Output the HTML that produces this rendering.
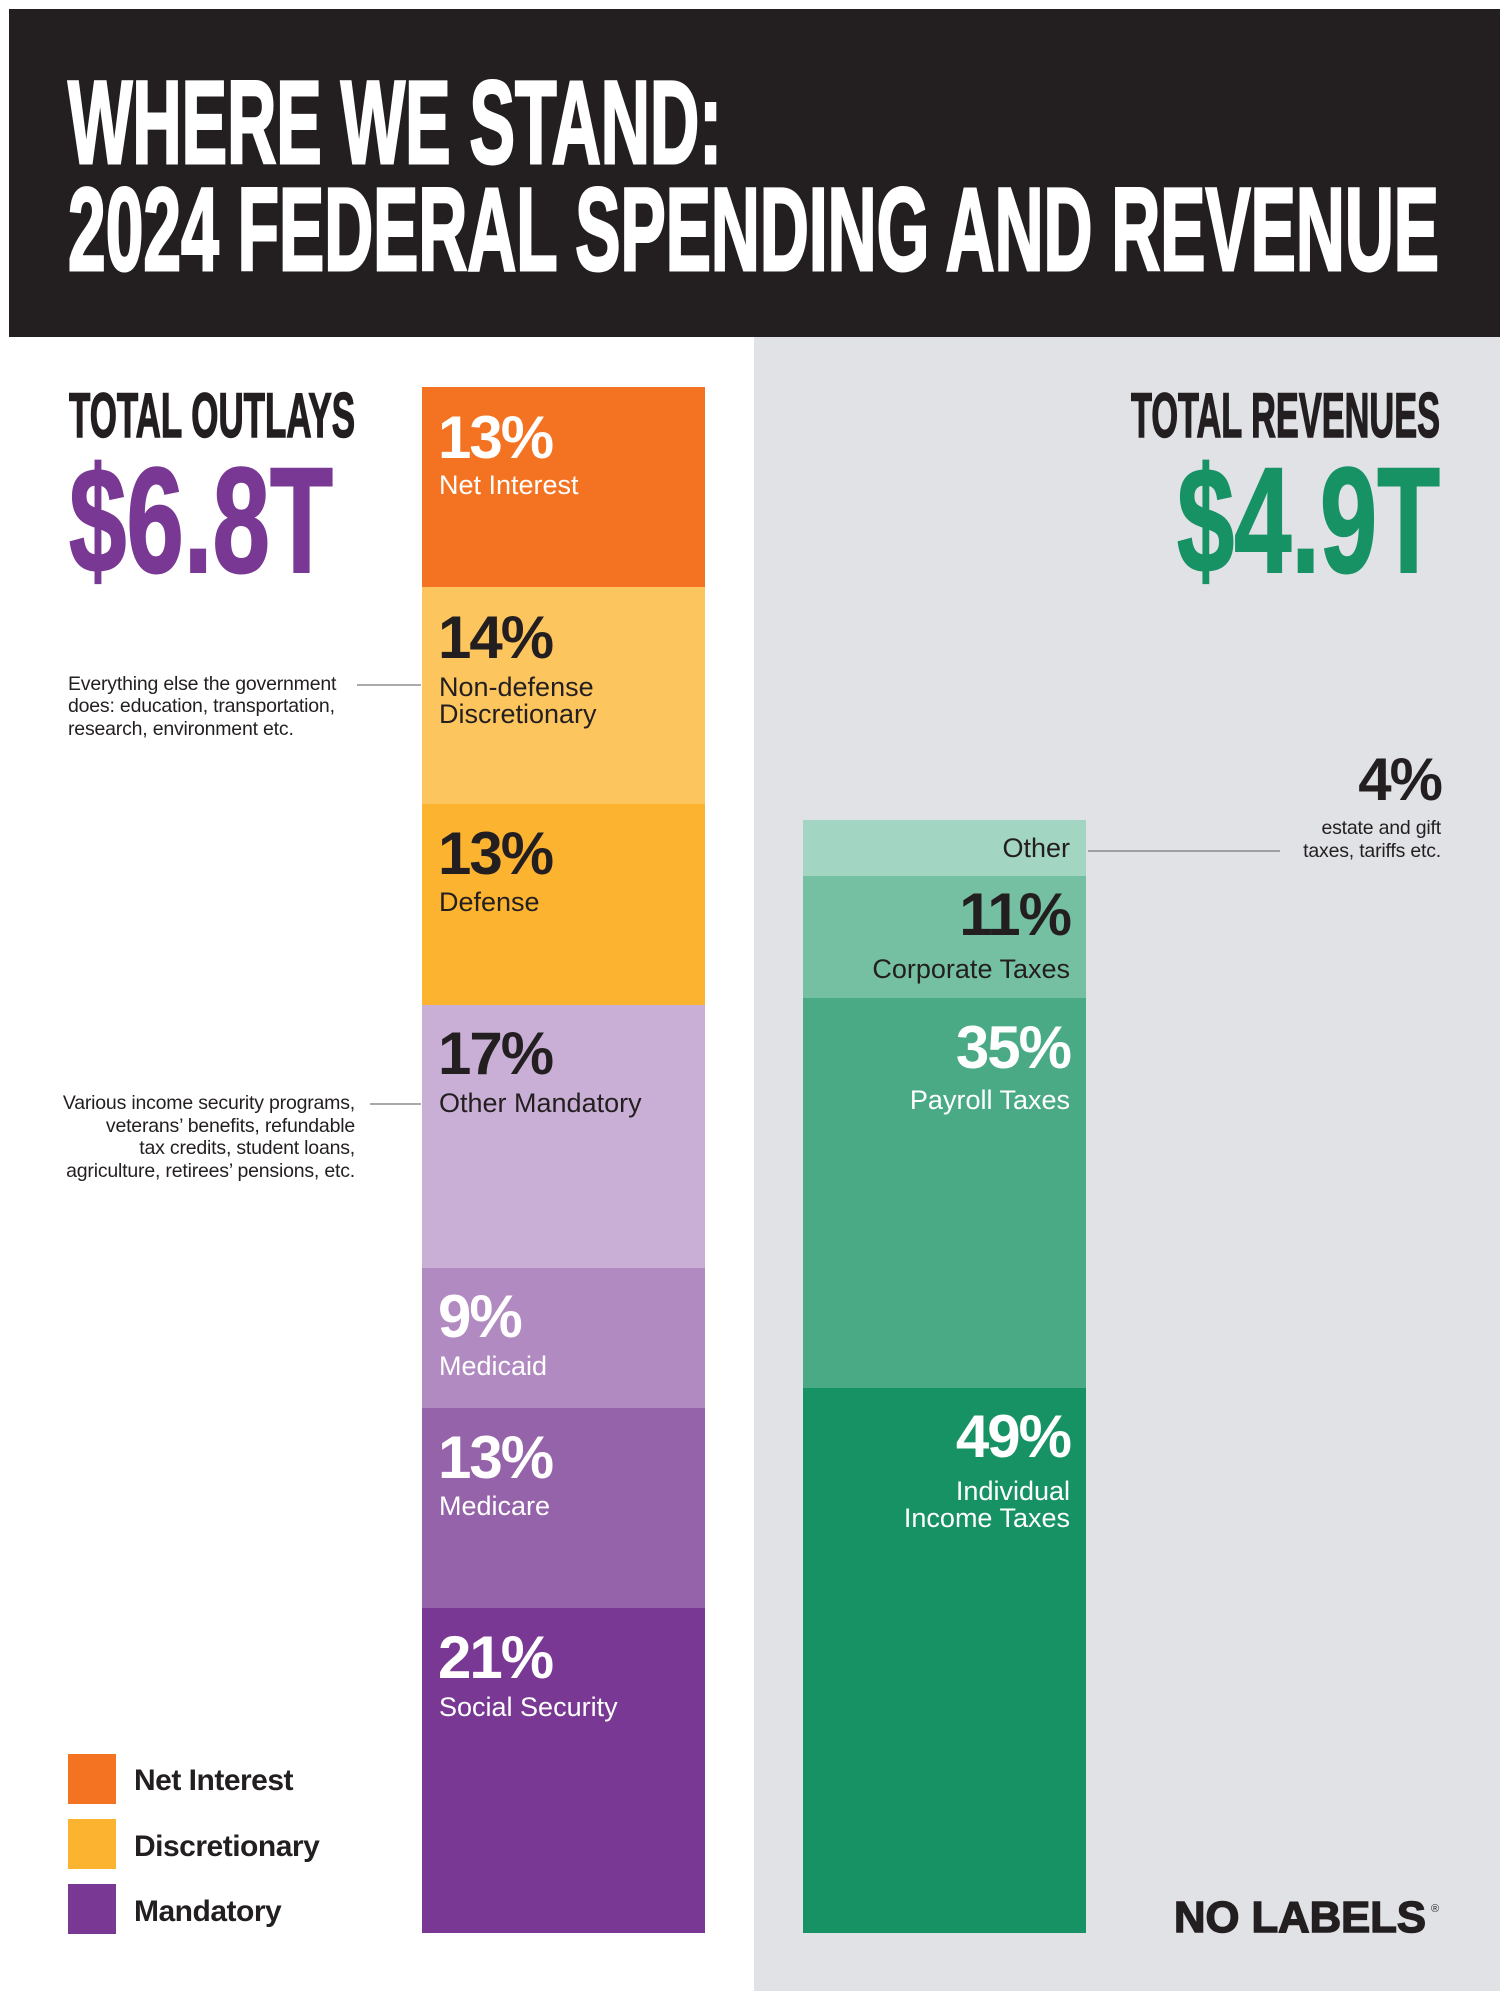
<!DOCTYPE html>
<html><head><meta charset="utf-8"><style>
html,body{margin:0;padding:0;background:#fff}
svg{display:block}
text{font-family:"Liberation Sans",Arial,sans-serif}
.h{font-weight:bold}
.p{font-weight:bold;font-size:60px;letter-spacing:-2px}
.l{font-size:27px}
.a{font-size:19.5px;fill:#231f20;letter-spacing:-0.2px}
.lg{font-weight:bold;font-size:30px;fill:#231f20;letter-spacing:-0.5px}
</style></head><body>
<svg width="1509" height="2000" viewBox="0 0 1509 2000" xmlns="http://www.w3.org/2000/svg">
<rect x="0" y="0" width="1509" height="2000" fill="#fff"/>
<rect x="9" y="9" width="1491" height="328" fill="#231f20"/>
<rect x="754" y="337" width="746" height="1654" fill="#e1e2e6"/>
<text x="68" y="163" class="h" font-size="118" fill="#fff" stroke="#fff" stroke-width="3" textLength="654" lengthAdjust="spacingAndGlyphs">WHERE WE STAND:</text>
<text x="68" y="270" class="h" font-size="118" fill="#fff" stroke="#fff" stroke-width="3" textLength="1371" lengthAdjust="spacingAndGlyphs">2024 FEDERAL SPENDING AND REVENUE</text>

<text x="69" y="437" class="h" font-size="63" fill="#231f20" stroke="#231f20" stroke-width="1.5" textLength="286" lengthAdjust="spacingAndGlyphs">TOTAL OUTLAYS</text>
<text x="69" y="572" class="h" font-size="150" fill="#793893" stroke="#793893" stroke-width="2" textLength="264" lengthAdjust="spacingAndGlyphs">$6.8T</text>
<text x="1131" y="437" class="h" font-size="63" fill="#231f20" stroke="#231f20" stroke-width="1.5" textLength="309" lengthAdjust="spacingAndGlyphs">TOTAL REVENUES</text>
<text x="1177" y="572" class="h" font-size="150" fill="#179265" stroke="#179265" stroke-width="2" textLength="263" lengthAdjust="spacingAndGlyphs">$4.9T</text>

<!-- left bar -->
<rect x="422" y="387" width="283" height="200" fill="#f47322"/>
<rect x="422" y="587" width="283" height="217" fill="#fdc55e"/>
<rect x="422" y="804" width="283" height="201" fill="#fbb330"/>
<rect x="422" y="1005" width="283" height="263" fill="#c9afd5"/>
<rect x="422" y="1268" width="283" height="140" fill="#b08ac1"/>
<rect x="422" y="1408" width="283" height="200" fill="#9563aa"/>
<rect x="422" y="1608" width="283" height="325" fill="#793893"/>

<text x="438" y="458" class="p" fill="#fff">13%</text>
<text x="439" y="494" class="l" fill="#fff">Net Interest</text>
<text x="438" y="658" class="p" fill="#231f20">14%</text>
<text x="439" y="696" class="l" fill="#231f20">Non-defense</text>
<text x="439" y="723" class="l" fill="#231f20">Discretionary</text>
<text x="438" y="874" class="p" fill="#231f20">13%</text>
<text x="439" y="911" class="l" fill="#231f20">Defense</text>
<text x="438" y="1074" class="p" fill="#231f20">17%</text>
<text x="439" y="1112" class="l" fill="#231f20">Other Mandatory</text>
<text x="438" y="1337" class="p" fill="#fff">9%</text>
<text x="439" y="1375" class="l" fill="#fff">Medicaid</text>
<text x="438" y="1478" class="p" fill="#fff">13%</text>
<text x="439" y="1515" class="l" fill="#fff">Medicare</text>
<text x="438" y="1678" class="p" fill="#fff">21%</text>
<text x="439" y="1716" class="l" fill="#fff">Social Security</text>

<!-- right bar -->
<rect x="803" y="820" width="283" height="56" fill="#a3d5c3"/>
<rect x="803" y="876" width="283" height="122" fill="#75bfa2"/>
<rect x="803" y="998" width="283" height="390" fill="#4aaa86"/>
<rect x="803" y="1388" width="283" height="545" fill="#179265"/>

<text x="1070" y="857" class="l" fill="#231f20" text-anchor="end">Other</text>
<text x="1070" y="935" class="p" fill="#231f20" text-anchor="end">11%</text>
<text x="1070" y="978" class="l" fill="#231f20" text-anchor="end">Corporate Taxes</text>
<text x="1070" y="1068" class="p" fill="#fff" text-anchor="end">35%</text>
<text x="1070" y="1109" class="l" fill="#fff" text-anchor="end">Payroll Taxes</text>
<text x="1070" y="1457" class="p" fill="#fff" text-anchor="end">49%</text>
<text x="1070" y="1500" class="l" fill="#fff" text-anchor="end">Individual</text>
<text x="1070" y="1527" class="l" fill="#fff" text-anchor="end">Income Taxes</text>

<!-- annotations -->
<text x="1441" y="800" class="p" fill="#231f20" text-anchor="end">4%</text>
<text x="1441" y="834" class="a" text-anchor="end">estate and gift</text>
<text x="1441" y="857" class="a" text-anchor="end">taxes, tariffs etc.</text>
<line x1="1088" y1="851" x2="1280" y2="851" stroke="#777" stroke-width="1.3"/>

<text x="68" y="690" class="a">Everything else the government</text>
<text x="68" y="712" class="a">does: education, transportation,</text>
<text x="68" y="735" class="a">research, environment etc.</text>
<line x1="357" y1="685" x2="421" y2="685" stroke="#777" stroke-width="1.3"/>

<text x="355" y="1109" class="a" text-anchor="end">Various income security programs,</text>
<text x="355" y="1132" class="a" text-anchor="end">veterans’ benefits, refundable</text>
<text x="355" y="1154" class="a" text-anchor="end">tax credits, student loans,</text>
<text x="355" y="1177" class="a" text-anchor="end">agriculture, retirees’ pensions, etc.</text>
<line x1="370" y1="1104" x2="421" y2="1104" stroke="#777" stroke-width="1.3"/>

<!-- legend -->
<rect x="68" y="1754" width="48" height="50" fill="#f47322"/>
<rect x="68" y="1819" width="48" height="50" fill="#fbb330"/>
<rect x="68" y="1884" width="48" height="50" fill="#793893"/>
<text x="134" y="1790" class="lg">Net Interest</text>
<text x="134" y="1856" class="lg">Discretionary</text>
<text x="134" y="1921" class="lg">Mandatory</text>

<text x="1174" y="1932" class="h" font-size="44" fill="#231f20" stroke="#231f20" stroke-width="1.5" textLength="252" lengthAdjust="spacingAndGlyphs">NO LABELS</text>
<text x="1431" y="1912" font-size="11" fill="#231f20">®</text>
</svg>
</body></html>
